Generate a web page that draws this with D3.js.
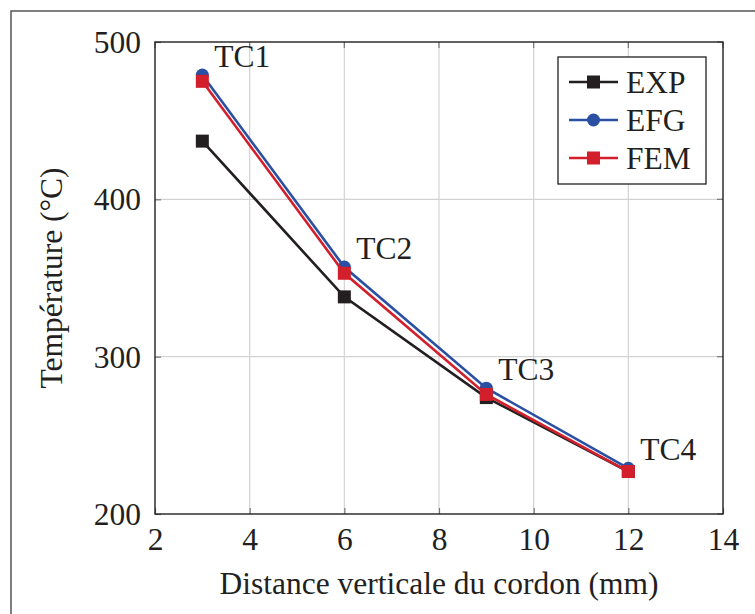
<!DOCTYPE html>
<html>
<head>
<meta charset="utf-8">
<script src="https://cdn.jsdelivr.net/npm/d3@7"></script>
<style>
  body { margin: 0; background: #fff; }
</style>
</head>
<body>
<div id="chart"></div>
<script>
const xValues = [3, 6, 9, 12];
const expValues = [437, 338, 274, 227];
const efgValues = [479, 357, 280, 229];
const femValues = [475, 353, 276, 227];
const pointLabels = ["TC1", "TC2", "TC3", "TC4"];
const xTicks = [2, 4, 6, 8, 10, 12, 14];
const yTicks = [200, 300, 400, 500];

let w = 755;
let h = 614;
let pLeft = 155, pRight = 723, pTop = 42, pBottom = 514;
let fontFam = "Liberation Serif";
let fontSize = 31.5;
let ink = "#231f20";

const series = [
  {name: "EXP", values: expValues, color: "#231f20", shape: "square"},
  {name: "EFG", values: efgValues, color: "#2a4fa3", shape: "circle"},
  {name: "FEM", values: femValues, color: "#d21f2b", shape: "square"}
];

let svg = d3.select("#chart").append("svg")
  .attr("width", w)
  .attr("height", h)
  .attr("font-family", fontFam);

// outer frame
svg.append("rect")
  .attr("x", 11).attr("y", 11)
  .attr("width", w + 20).attr("height", h + 20)
  .attr("fill", "none")
  .attr("stroke", "#555")
  .attr("stroke-width", 1.5);

const x = d3.scaleLinear().domain([2, 14]).range([pLeft, pRight]);
const y = d3.scaleLinear().domain([200, 500]).range([pBottom, pTop]);

// grid
let grid = svg.append("g").attr("stroke", "#d3d3d3").attr("stroke-width", 1.2);
grid.selectAll(".gx").data(xTicks.slice(1, -1)).join("line")
  .attr("x1", d => x(d)).attr("x2", d => x(d))
  .attr("y1", pTop).attr("y2", pBottom);
grid.selectAll(".gy").data(yTicks.slice(1, -1)).join("line")
  .attr("x1", pLeft).attr("x2", pRight)
  .attr("y1", d => y(d)).attr("y2", d => y(d));

// axes: ticks inward, labels outside
const xAxis = d3.axisBottom(x).tickValues(xTicks).tickSizeInner(-6).tickSizeOuter(0).tickPadding(13);
const yAxis = d3.axisLeft(y).tickValues(yTicks).tickSizeInner(-6).tickSizeOuter(0).tickPadding(14);

let gx = svg.append("g").attr("transform", `translate(0,${pBottom})`).call(xAxis);
let gy = svg.append("g").attr("transform", `translate(${pLeft},0)`).call(yAxis);
[gx, gy].forEach(g => {
  g.attr("font-family", fontFam).attr("font-size", fontSize);
  g.select(".domain").remove();
  g.selectAll(".tick line").attr("stroke", "#777").attr("stroke-width", 1.2);
  g.selectAll(".tick text").attr("fill", ink);
});
gx.selectAll(".tick text").attr("dy", "0.72em");
gy.selectAll(".tick text").attr("dy", "0.33em");

// ticks on top and right too
svg.append("g").selectAll("line").data(xTicks).join("line")
  .attr("x1", d => x(d)).attr("x2", d => x(d))
  .attr("y1", pTop).attr("y2", pTop + 6)
  .attr("stroke", "#777").attr("stroke-width", 1.2);
svg.append("g").selectAll("line").data(yTicks).join("line")
  .attr("x1", pRight - 6).attr("x2", pRight)
  .attr("y1", d => y(d)).attr("y2", d => y(d))
  .attr("stroke", "#777").attr("stroke-width", 1.2);

// plot frame
svg.append("rect")
  .attr("x", pLeft).attr("y", pTop)
  .attr("width", pRight - pLeft).attr("height", pBottom - pTop)
  .attr("fill", "none")
  .attr("stroke", ink)
  .attr("stroke-width", 1.4);

// axis titles
svg.append("text")
  .attr("x", (pLeft + pRight) / 2)
  .attr("y", 594)
  .attr("text-anchor", "middle")
  .attr("font-size", fontSize)
  .attr("fill", ink)
  .text("Distance verticale du cordon (mm)");

svg.append("text")
  .attr("transform", `translate(62,${(pTop + pBottom) / 2}) rotate(-90)`)
  .attr("text-anchor", "middle")
  .attr("font-size", fontSize)
  .attr("fill", ink)
  .text("Température (°C)");

// series
const line = d3.line().x(d => x(d.x)).y(d => y(d.y));

function drawMarker(g, shape, color, cx, cy) {
  if (shape == "circle") {
    g.append("circle").attr("cx", cx).attr("cy", cy).attr("r", 6.5).attr("fill", color);
  } else {
    g.append("rect").attr("x", cx - 6.5).attr("y", cy - 6.5)
      .attr("width", 13).attr("height", 13).attr("fill", color);
  }
}

series.forEach(s => {
  let pts = xValues.map((xv, i) => ({x: xv, y: s.values[i]}));
  let g = svg.append("g");
  g.append("path")
    .attr("d", line(pts))
    .attr("fill", "none")
    .attr("stroke", s.color)
    .attr("stroke-width", 2.6);
  pts.forEach(p => drawMarker(g, s.shape, s.color, x(p.x), y(p.y)));
});

// TC labels, placed above-right of the EFG points
svg.append("g").selectAll("text").data(pointLabels).join("text")
  .attr("x", (d, i) => x(xValues[i]) + 12)
  .attr("y", (d, i) => y(efgValues[i]) - 8)
  .attr("font-size", fontSize)
  .attr("fill", ink)
  .text(d => d);

// legend
let legend = svg.append("g");
legend.append("rect")
  .attr("x", 558).attr("y", 57)
  .attr("width", 148).attr("height", 127)
  .attr("fill", "#fff")
  .attr("stroke", ink)
  .attr("stroke-width", 1.3);
series.forEach((s, i) => {
  let ly = 82 + i * 38;
  legend.append("line")
    .attr("x1", 569).attr("x2", 618)
    .attr("y1", ly).attr("y2", ly)
    .attr("stroke", s.color).attr("stroke-width", 2.6);
  drawMarker(legend, s.shape, s.color, 593.5, ly);
  legend.append("text")
    .attr("x", 626).attr("y", ly + 10.5)
    .attr("font-size", fontSize)
    .attr("fill", ink)
    .text(s.name);
});
</script>
</body>
</html>
